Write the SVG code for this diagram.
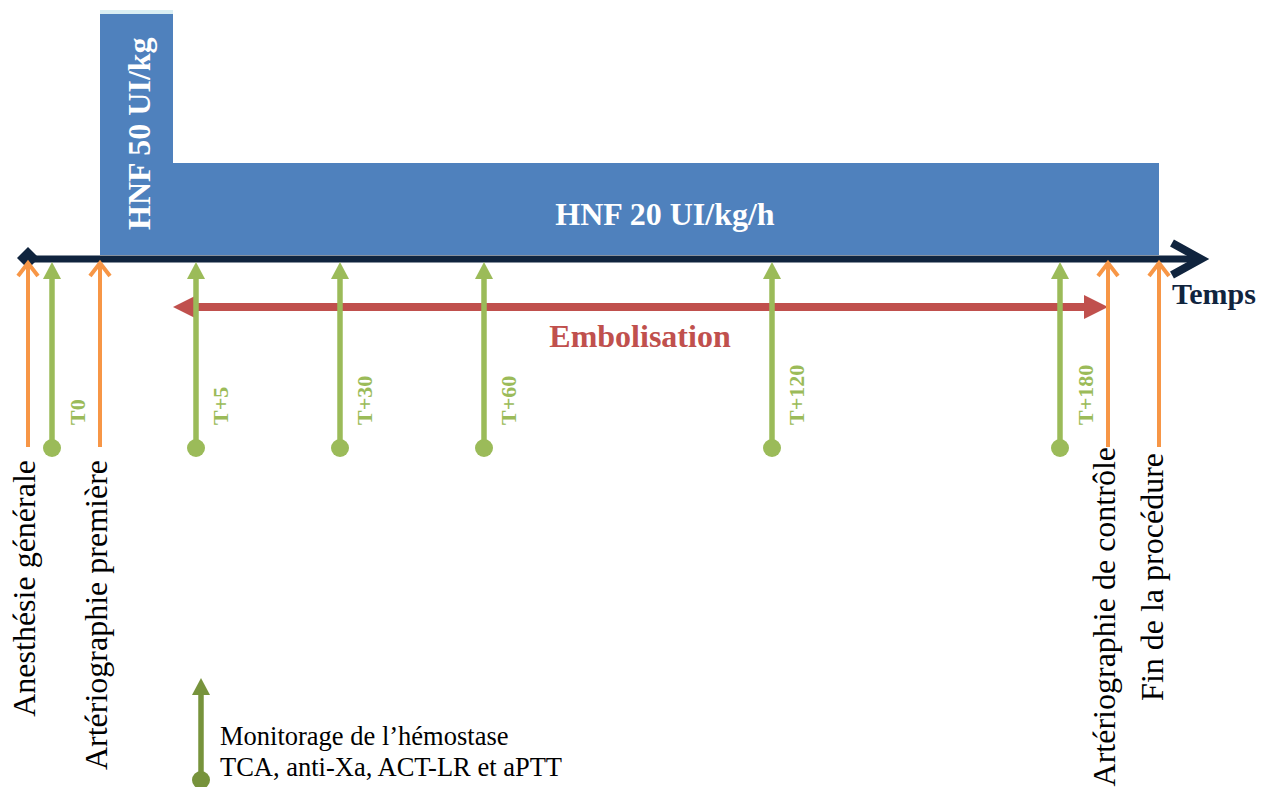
<svg xmlns="http://www.w3.org/2000/svg" width="1263" height="787" viewBox="0 0 1263 787" font-family="'Liberation Serif', 'Times New Roman', serif">
<style>
  .white { fill: #ffffff; font-weight: bold; font-size: 32px; font-family: 'Liberation Serif', serif; }
  .tlbl { fill: #9bbb59; font-weight: bold; font-size: 22px; font-family: 'Liberation Serif', serif; }
  .evt { fill: #000000; font-size: 32px; font-family: 'Liberation Serif', serif; }
  .leg { fill: #000000; font-size: 26.5px; font-family: 'Liberation Serif', serif; }
  .orange { stroke: #f79646; stroke-width: 4; fill: none; stroke-linecap: butt; stroke-linejoin: miter; }
  .gline { stroke: #9bbb59; stroke-width: 5.5; }
  .ghead { fill: #9bbb59; }
</style>
<rect width="1263" height="787" fill="#ffffff"/>

<g id="hnf50">
  <rect x="100" y="10" width="73" height="5" fill="#daeef3"/>
  <rect x="100" y="14" width="73" height="241" fill="#4f81bd"/>
  <text class="white" font-family="'Liberation Serif', serif" transform="translate(150,230) rotate(-90)">HNF 50 UI/kg</text>
</g>
<g id="hnf20">
  <rect x="172" y="163" width="987" height="92" fill="#4f81bd"/>
  <text class="white" font-family="'Liberation Serif', serif" x="665" y="225" text-anchor="middle">HNF 20 UI/kg/h</text>
</g>

<g id="connectors">
  <line x1="28" y1="259" x2="1196" y2="259" stroke="#10243e" stroke-width="7"/>
  <polygon points="17,258 28,247 39,258 28,269" fill="#10243e"/>
  <polyline points="1172,243 1201,259 1172,275" fill="none" stroke="#10243e" stroke-width="8" stroke-linejoin="miter"/>

  <line x1="194" y1="307" x2="1087" y2="307" stroke="#c0504d" stroke-width="8"/>
  <polygon points="173,307 197,295 197,319" fill="#c0504d"/>
  <polygon points="1108,307 1084,295 1084,319" fill="#c0504d"/>

  <g id="arr-anesthesie">
    <line class="orange" x1="28" y1="447" x2="28" y2="263"/>
    <polyline class="orange" points="18,276 28,263 38,276"/>
  </g>
  <g id="arr-arterio1">
    <line class="orange" x1="100" y1="447" x2="100" y2="263"/>
    <polyline class="orange" points="90,276 100,263 110,276"/>
  </g>
  <g id="arr-arterio2">
    <line class="orange" x1="1108" y1="447" x2="1108" y2="263"/>
    <polyline class="orange" points="1098,276 1108,263 1118,276"/>
  </g>
  <g id="arr-fin">
    <line class="orange" x1="1159" y1="447" x2="1159" y2="263"/>
    <polyline class="orange" points="1149,276 1159,263 1169,276"/>
  </g>

  <g id="arr-t0">
    <line class="gline" x1="52" y1="448" x2="52" y2="276"/>
    <polygon class="ghead" points="52,262 43,279 61,279"/>
    <circle class="ghead" cx="52" cy="448" r="9"/>
  </g>
  <g id="arr-t5">
    <line class="gline" x1="196" y1="448" x2="196" y2="276"/>
    <polygon class="ghead" points="196,262 187,279 205,279"/>
    <circle class="ghead" cx="196" cy="448" r="9"/>
  </g>
  <g id="arr-t30">
    <line class="gline" x1="340" y1="448" x2="340" y2="276"/>
    <polygon class="ghead" points="340,262 331,279 349,279"/>
    <circle class="ghead" cx="340" cy="448" r="9"/>
  </g>
  <g id="arr-t60">
    <line class="gline" x1="484" y1="448" x2="484" y2="276"/>
    <polygon class="ghead" points="484,262 475,279 493,279"/>
    <circle class="ghead" cx="484" cy="448" r="9"/>
  </g>
  <g id="arr-t120">
    <line class="gline" x1="772" y1="448" x2="772" y2="276"/>
    <polygon class="ghead" points="772,262 763,279 781,279"/>
    <circle class="ghead" cx="772" cy="448" r="9"/>
  </g>
  <g id="arr-t180">
    <line class="gline" x1="1060" y1="448" x2="1060" y2="276"/>
    <polygon class="ghead" points="1060,262 1051,279 1069,279"/>
    <circle class="ghead" cx="1060" cy="448" r="9"/>
  </g>
</g>

<g id="temps">
  <text x="1172" y="304" font-family="'Liberation Serif', serif" font-size="30" font-weight="bold" fill="#10243e">Temps</text>
</g>
<g id="embolisation">
  <text x="640" y="347" text-anchor="middle" font-family="'Liberation Serif', serif" font-size="32" font-weight="bold" fill="#c0504d">Embolisation</text>
</g>

<g id="labels-t">
  <text class="tlbl" font-family="'Liberation Serif', serif" transform="translate(85,425) rotate(-90)">T0</text>
  <text class="tlbl" font-family="'Liberation Serif', serif" transform="translate(228,425) rotate(-90)">T+5</text>
  <text class="tlbl" font-family="'Liberation Serif', serif" transform="translate(372,425) rotate(-90)">T+30</text>
  <text class="tlbl" font-family="'Liberation Serif', serif" transform="translate(516,425) rotate(-90)">T+60</text>
  <text class="tlbl" font-family="'Liberation Serif', serif" transform="translate(804,425) rotate(-90)">T+120</text>
  <text class="tlbl" font-family="'Liberation Serif', serif" transform="translate(1093,425) rotate(-90)">T+180</text>
</g>

<g id="ev-anesthesie">
  <text class="evt" font-family="'Liberation Serif', serif" text-anchor="end" transform="translate(35,460) rotate(-90)">Anesthésie générale</text>
</g>
<g id="ev-arterio1">
  <text class="evt" font-family="'Liberation Serif', serif" text-anchor="end" transform="translate(107,460) rotate(-90)">Artériographie première</text>
</g>
<g id="ev-arterio2">
  <text class="evt" font-family="'Liberation Serif', serif" text-anchor="end" transform="translate(1115,447) rotate(-90)">Artériographie de contrôle</text>
</g>
<g id="ev-fin">
  <text class="evt" font-family="'Liberation Serif', serif" text-anchor="end" transform="translate(1163,453) rotate(-90)">Fin de la procédure</text>
</g>

<g id="legend">
  <line x1="201" y1="780" x2="201" y2="692" stroke="#77933c" stroke-width="5.5"/>
  <polygon points="201,678 192,695 210,695" fill="#77933c"/>
  <circle cx="201" cy="780" r="9" fill="#77933c"/>
  <text class="leg" font-family="'Liberation Serif', serif" x="220" y="745">Monitorage de l’hémostase</text>
  <text class="leg" font-family="'Liberation Serif', serif" x="220" y="776">TCA, anti-Xa, ACT-LR et aPTT</text>
</g>
</svg>
